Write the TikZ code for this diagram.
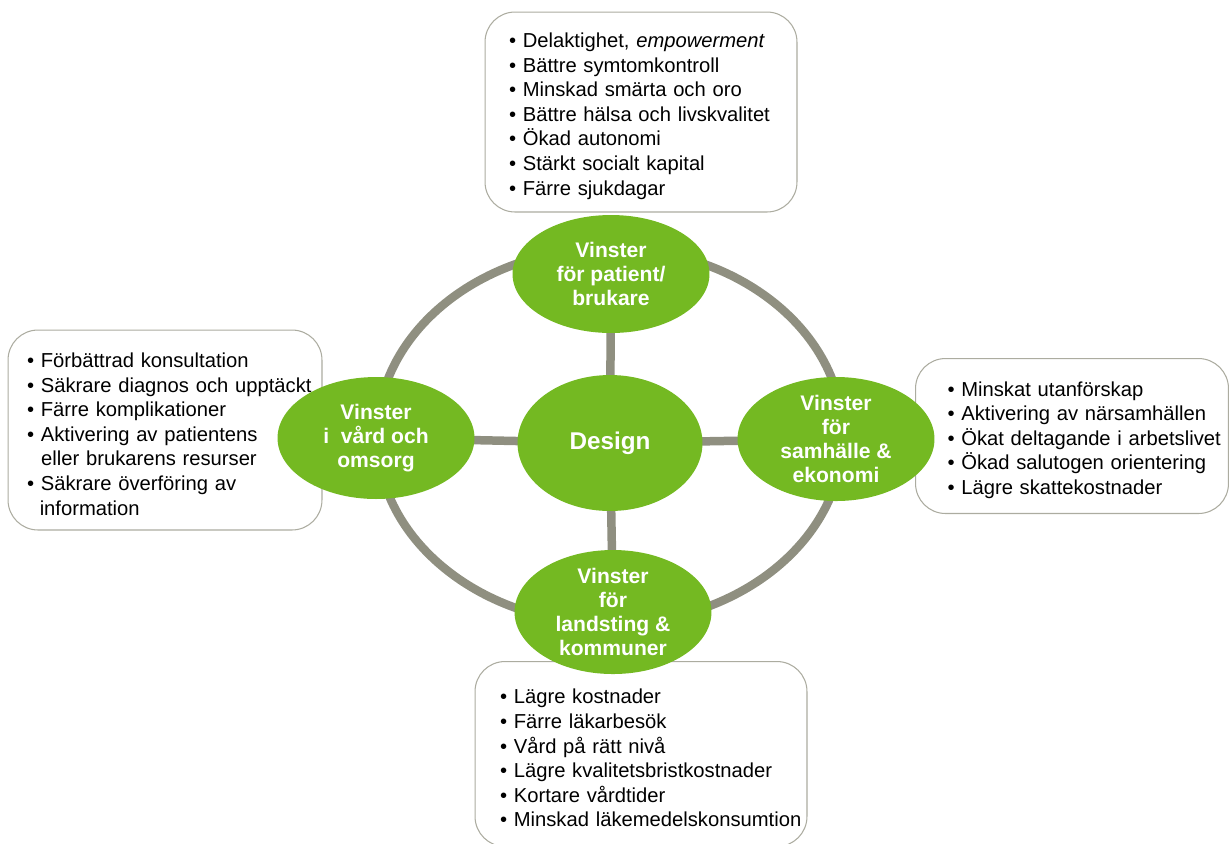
\documentclass[tikz,border=0pt]{standalone}
\usepackage{fontspec}
\setmainfont{Liberation Sans}
\usetikzlibrary{shapes.geometric,backgrounds}
\definecolor{leafgreen}{RGB}{116,185,34}
\definecolor{ringgray}{RGB}{143,143,128}
\definecolor{boxgray}{RGB}{172,172,160}
% one bullet line, never broken
\newcommand{\punkt}[1]{\mbox{• #1}}
\begin{document}
\begin{tikzpicture}
		[x=0.02cm, y=-0.02cm,
		gain/.style={
			ellipse,
			fill=leafgreen,
			text=white,
			font=\fontsize{12}{13.7}\selectfont\bfseries,
			align=center,
			inner sep=0pt,
			minimum width=3.94cm,
			minimum height=2.44cm
		},
		hub/.style={gain,minimum width=3.7cm,minimum height=2.72cm,font=\fontsize{13.8}{16}\selectfont\bfseries},
		listbox/.style={rectangle,rounded corners=0.6cm,draw=boxgray,line width=0.6pt,fill=white,
			font=\fontsize{11.5}{14}\selectfont,align=left,inner ysep=0pt,text height=13pt},
		link/.style={draw=ringgray,line width=0.17cm}]
		\useasboundingbox (0,0) rectangle (1229,843);

		% lists of gains
		\node[listbox,text width=5.28cm,inner xsep=0.48cm,minimum height=4cm] (patientlist) at (641,112)
		{\punkt{Delaktighet, \textit{empowerment}}\\
		\punkt{Bättre symtomkontroll}\\
		\punkt{Minskad smärta och oro}\\
		\punkt{Bättre hälsa och livskvalitet}\\
		\punkt{Ökad autonomi}\\
		\punkt{Stärkt socialt kapital}\\
		\punkt{Färre sjukdagar}};
		\node[listbox,text width=5.52cm,inner xsep=0.38cm,minimum height=4cm] (vardlist) at (165,430)
		{\punkt{Förbättrad konsultation}\\
		\punkt{Säkrare diagnos och upptäckt}\\
		\punkt{Färre komplikationer}\\
		\punkt{Aktivering av patientens}\\
		\mbox{\hspace*{0.7em}eller brukarens resurser}\\
		\punkt{Säkrare överföring av}\\
		\mbox{\hspace*{0.63em}information}};
		\node[listbox,text width=4.98cm,inner xsep=0.64cm,minimum height=3.1cm] (samhallelist) at (1072,436)
		{\punkt{Minskat utanförskap}\\
		\punkt{Aktivering av närsamhällen}\\
		\punkt{Ökat deltagande i arbetslivet}\\
		\punkt{Ökad salutogen orientering}\\
		\punkt{Lägre skattekostnader}};
		\node[listbox,text width=5.64cm,inner xsep=0.5cm,minimum height=3.7cm] (landstinglist) at (641,754)
		{\punkt{Lägre kostnader}\\
		\punkt{Färre läkarbesök}\\
		\punkt{Vård på rätt nivå}\\
		\punkt{Lägre kvalitetsbristkostnader}\\
		\punkt{Kortare vårdtider}\\
		\punkt{Minskad läkemedelskonsumtion}};

		% the wheel
		\node[hub] (design) at (610,443) {Design};
		\node[gain,minimum height=2.36cm] (patient) at (611,274) {Vinster\\för patient/\\brukare};
		\node[gain] (vard) at (376,438) {Vinster\\i\ \ vård och\\omsorg};
		\node[gain] (samhalle) at (836,439) {Vinster\\för\\samhälle \&\\ekonomi};
		\node[gain,minimum height=2.32cm] (landsting) at (613,612) {Vinster\\för\\landsting \&\\kommuner};
		\coordinate (rim) at (610,436);

		\begin{scope}[on background layer]
			\draw[link] (rim) ellipse [x radius=4.66cm, y radius=3.76cm];
			\draw[link] (design.center) -- (patient.center);
			\draw[link] (design.center) -- (landsting.center);
			\draw[link] (design.center) -- (vard.center);
			\draw[link] (design.center) -- (samhalle.center);
		\end{scope}
\end{tikzpicture}
\end{document}
